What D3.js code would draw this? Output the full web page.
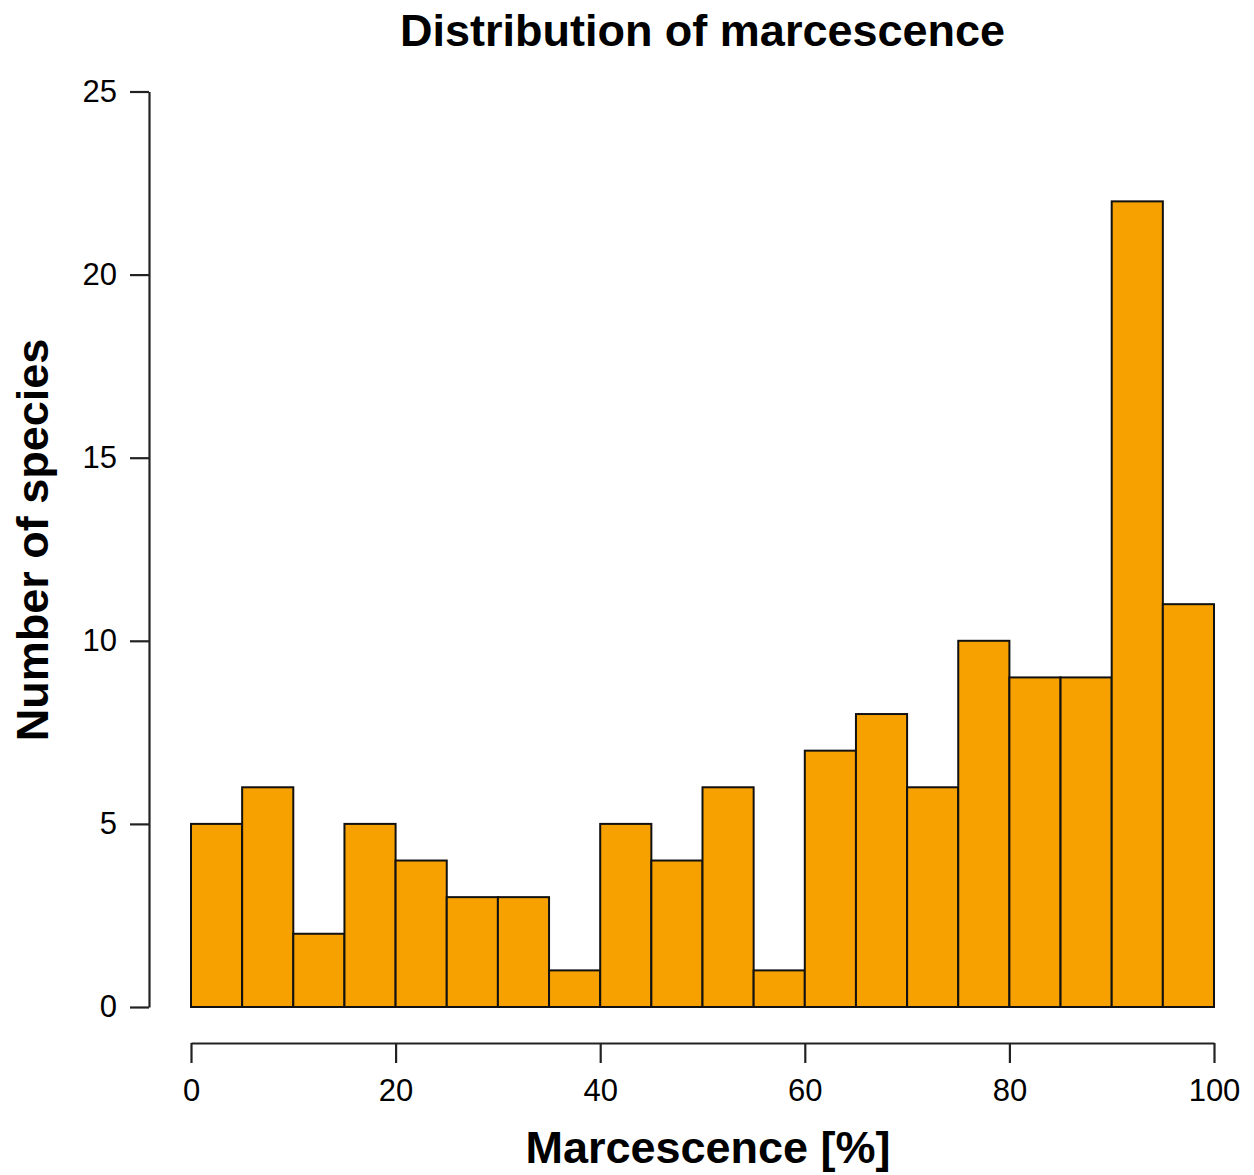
<!DOCTYPE html>
<html>
<head>
<meta charset="utf-8">
<script src="https://cdn.jsdelivr.net/npm/d3@7"></script>
<style>
  html, body { margin: 0; padding: 0; background: #fff; }
  svg { display: block; }
  text { font-family: "Liberation Sans", Arial, Helvetica, sans-serif; fill: #000; }
</style>
</head>
<body>
<svg id="chart" width="1254" height="1175"></svg>
<script>
// Data: histogram bins (lower edges, width 5) and counts
const binStarts = [0, 5, 10, 15, 20, 25, 30, 35, 40, 45, 50, 55, 60, 65, 70, 75, 80, 85, 90, 95];
const binWidth = 5;
const counts = [5, 6, 2, 5, 4, 3, 3, 1, 5, 4, 6, 1, 7, 8, 6, 10, 9, 9, 22, 11];
const xTicks = [0, 20, 40, 60, 80, 100];
const yTicks = [0, 5, 10, 15, 20, 25];
const title = "Distribution of marcescence";
const xTitle = "Marcescence [%]";
const yTitle = "Number of species";

const bins = binStarts.map((s, i) => ({ x0: s, x1: s + binWidth, n: counts[i] }));

const svg = d3.select("#chart");
const x = d3.scaleLinear().domain([0, 100]).range([191, 1214]);
const y = d3.scaleLinear().domain([0, 25]).range([1007, 91.5]);

// Bars
svg.append("g").selectAll("rect").data(bins).join("rect")
  .attr("x", d => x(d.x0))
  .attr("y", d => y(d.n))
  .attr("width", d => x(d.x1) - x(d.x0))
  .attr("height", d => y(0) - y(d.n))
  .attr("fill", "#F7A100")
  .attr("stroke", "#111")
  .attr("stroke-width", 2);

// X axis (detached, R style)
const xAxis = svg.append("g").attr("transform", "translate(0,1043)")
  .call(d3.axisBottom(x).tickValues(xTicks).tickSize(20).tickPadding(16).tickSizeOuter(0));
xAxis.select(".domain").attr("stroke", "#222").attr("stroke-width", 2.2);
xAxis.selectAll(".tick line").attr("stroke", "#222").attr("stroke-width", 2.2);
xAxis.selectAll(".tick text").attr("font-size", 31).attr("dy", "0.71em")
  .attr("font-family", "Liberation Sans, Arial, sans-serif").attr("fill", "#000");

// Y axis
const yAxis = svg.append("g").attr("transform", "translate(149,0)")
  .call(d3.axisLeft(y).tickValues(yTicks).tickSize(19).tickPadding(13).tickSizeOuter(0));
yAxis.select(".domain").attr("stroke", "#222").attr("stroke-width", 2.2);
yAxis.selectAll(".tick line").attr("stroke", "#222").attr("stroke-width", 2.2);
yAxis.selectAll(".tick text").attr("font-size", 31)
  .attr("font-family", "Liberation Sans, Arial, sans-serif").attr("fill", "#000");

// Titles
svg.append("text").attr("x", 702.5).attr("y", 46)
  .attr("text-anchor", "middle").attr("font-size", 45).attr("font-weight", "bold")
  .text(title);
svg.append("text").attr("x", 708).attr("y", 1163)
  .attr("text-anchor", "middle").attr("font-size", 45).attr("font-weight", "bold")
  .text(xTitle);
svg.append("text").attr("transform", "translate(48,540) rotate(-90)")
  .attr("text-anchor", "middle").attr("font-size", 45).attr("font-weight", "bold")
  .text(yTitle);
</script>
</body>
</html>
